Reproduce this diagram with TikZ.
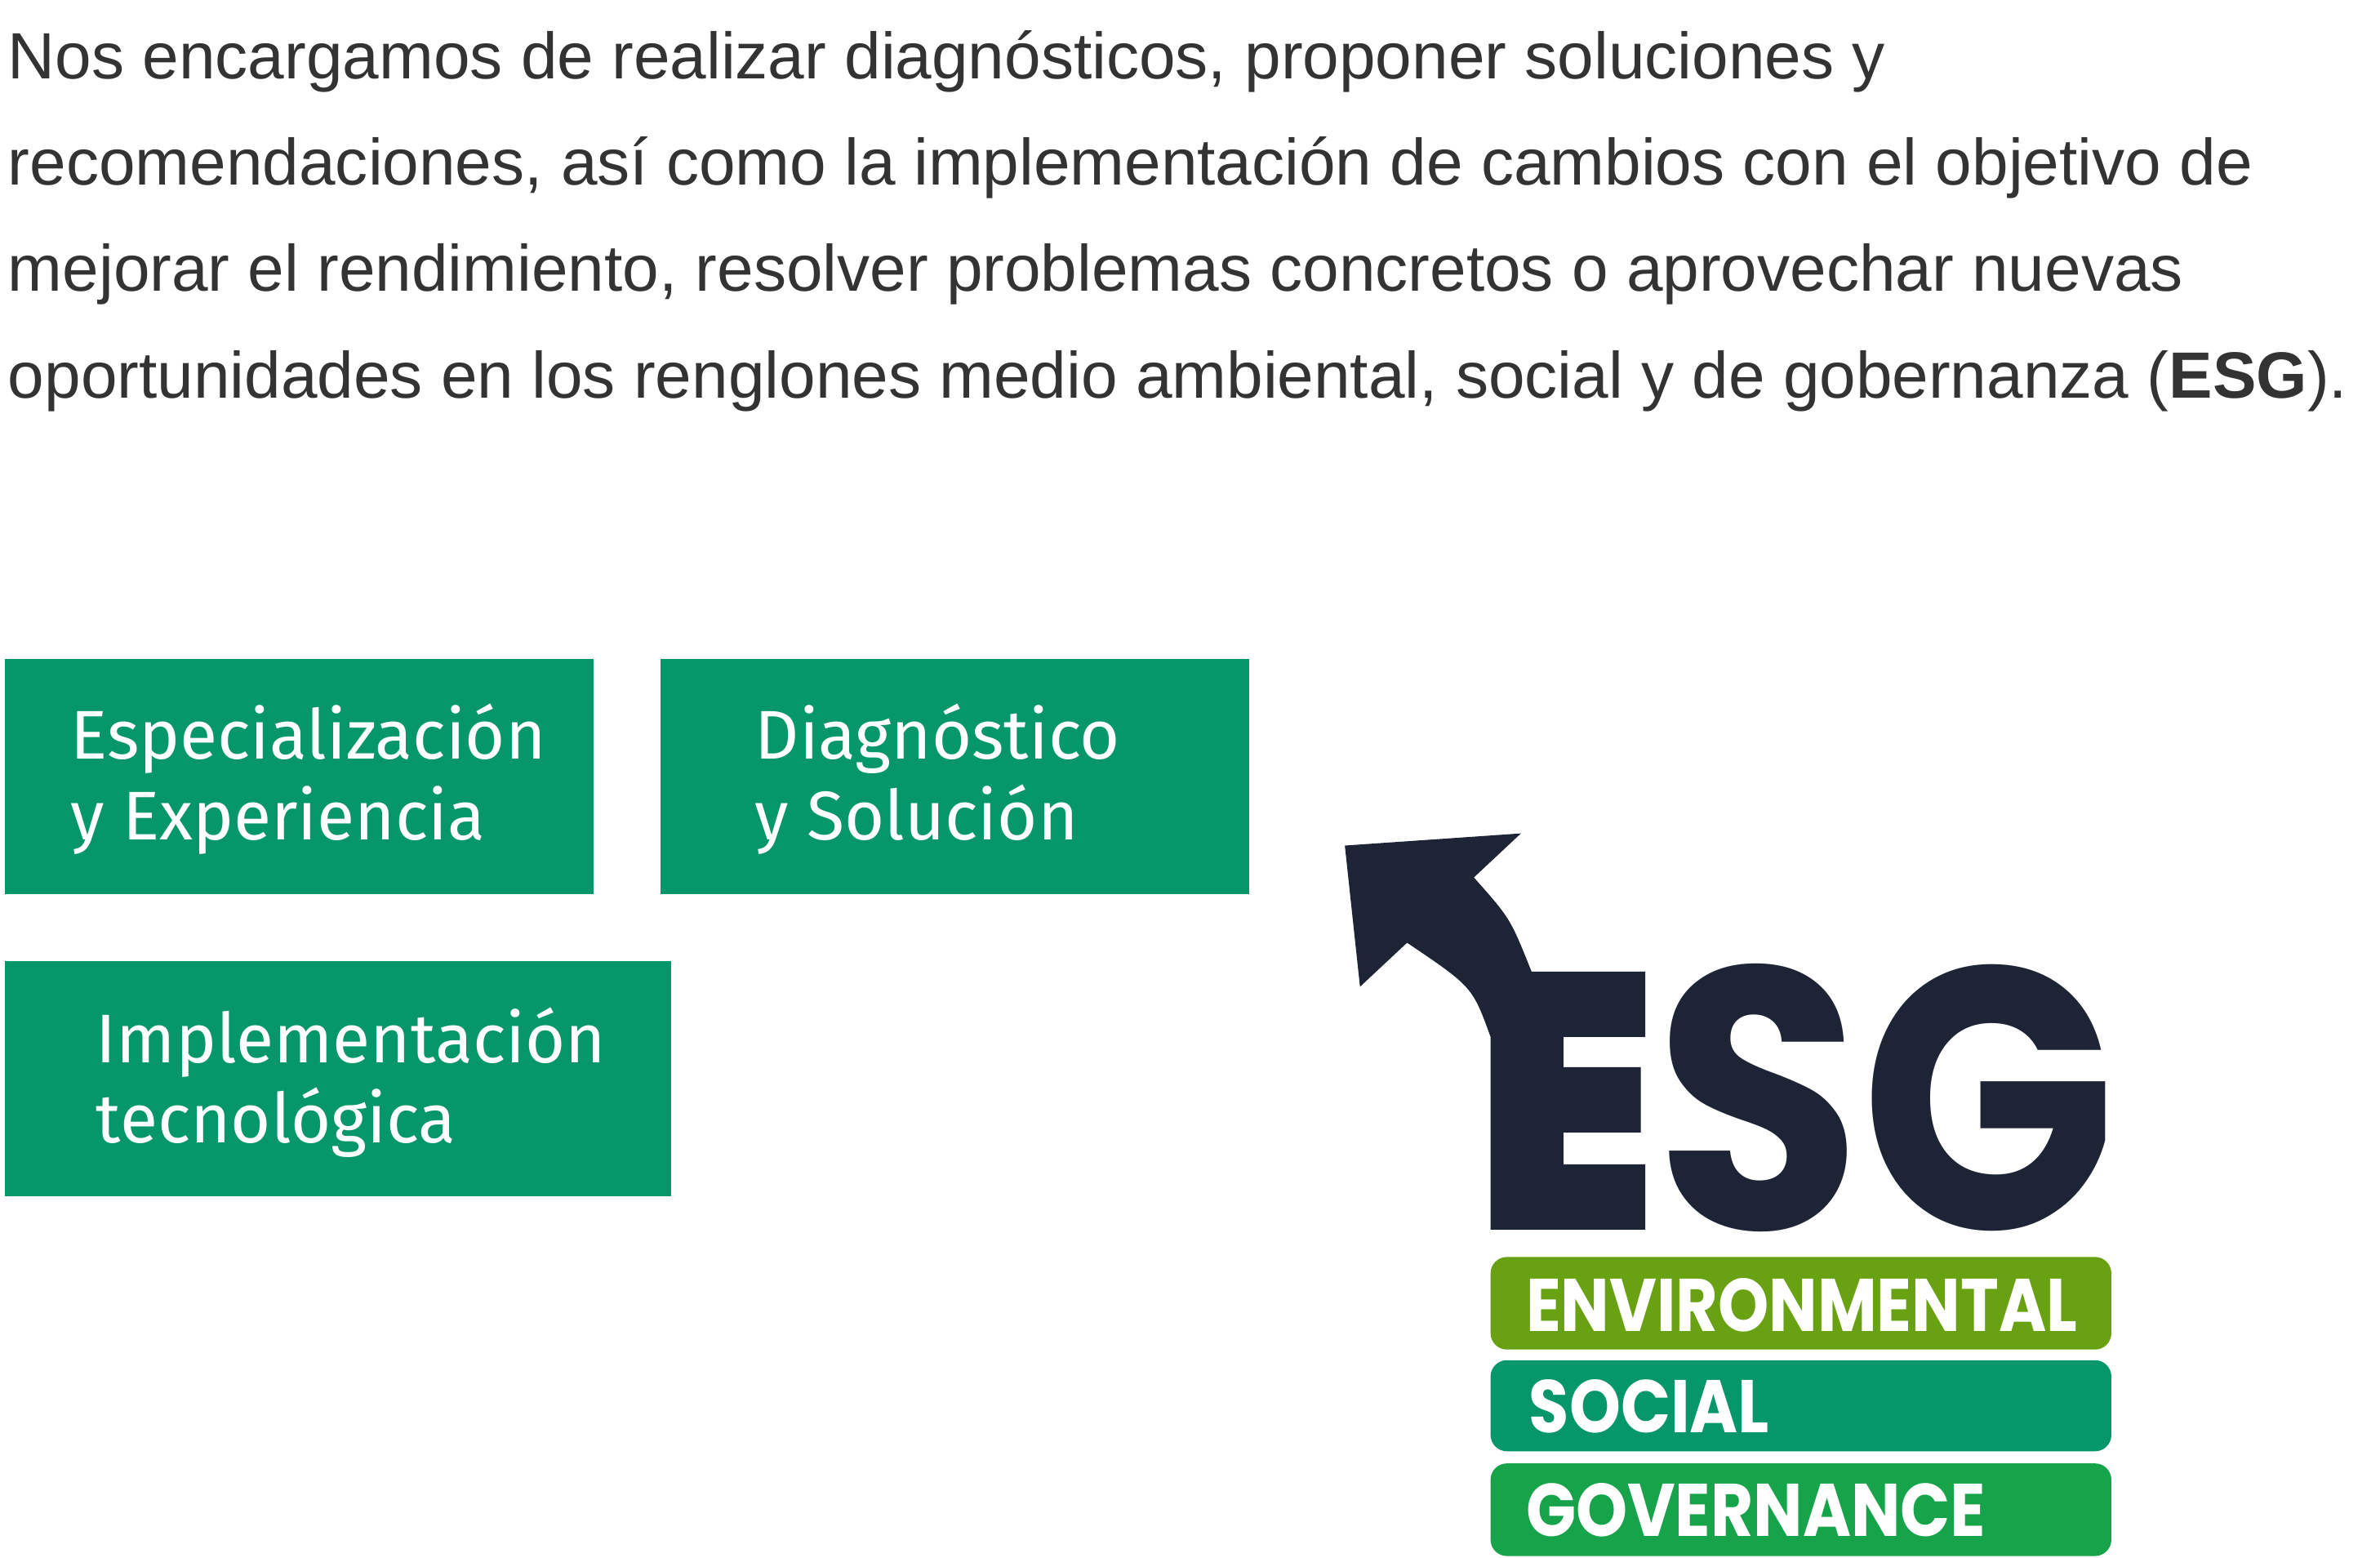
\documentclass[tikz,border=0pt]{standalone}
\usepackage{fontspec}
\setmainfont{Liberation Sans}
\newfontfamily\boxfont{Fira Sans}
\newfontfamily\logofont{Poppins}
\usetikzlibrary{positioning}
\definecolor{bodygrey}{HTML}{333333}
\definecolor{boxgreen}{HTML}{05966A}
\definecolor{logonavy}{HTML}{1C2436}
\definecolor{envgreen}{HTML}{68A212}
\definecolor{govgreen}{HTML}{16A34A}
\tikzset{
    para/.style={
        anchor=base west,
        inner sep=0pt,
        text=bodygrey,
        font=\fontsize{22.8}{28}\selectfont
    },
    tiletext/.style={
        anchor=base west,
        inner sep=0pt,
        text=white,
        align=left,
        font=\boxfont\fontsize{24}{29}\selectfont
    },
    bar/.style={
        rounded corners=0.2cm
    },
    bartext/.style={
        anchor=base west,
        inner sep=0pt,
        text=white,
        font=\logofont\bfseries
    },
}
\begin{document}
\begin{tikzpicture}[x=0.01859cm,y=-0.01859cm]
\useasboundingbox (0,0) rectangle (1568,1026);

% Paragraph
\node[para] (l1) at (5,52) {Nos encargamos de realizar diagnósticos, proponer soluciones y};
\node[para] (l2) at (5,122) {recomendaciones, así como la implementación de cambios con el objetivo de};
\node[para] (l3) at (5,192) {mejorar el rendimiento, resolver problemas concretos o aprovechar nuevas};
\node[para] (l4) at (5,262) {oportunidades en los renglones medio ambiental, social y de gobernanza (\textbf{ESG}).};

% Tiles
\fill[boxgreen] (3,434) rectangle (391,589);
\fill[boxgreen] (435,434) rectangle (823,589);
\fill[boxgreen] (3,633) rectangle (442,788);
\node[tiletext] (t1) at (46,500) {Especialización};
\node[tiletext] (t1b) at (46,553) {y Experiencia};
\node[tiletext] (t2) at (497,500) {Diagnóstico};
\node[tiletext] (t2b) at (497,553) {y Solución};
\node[tiletext] (t3) at (63,700) {Implementación};
\node[tiletext] (t3b) at (63,753) {tecnológica};

% Logo: arrow and E
\fill[logonavy] (886,557) -- (1002,549) -- (971,578)
    .. controls (995,605) .. (1009,640) -- (1084,640) -- (1084,683)
    -- (1030,683) -- (1030,703) -- (1081,703) -- (1081,746) -- (1030,746)
    -- (1030,767) -- (1084,767) -- (1084,810) -- (982,810) -- (982,683)
    .. controls (970,650) .. (927,621) -- (896,650) -- cycle;
\node[anchor=south west, inner sep=0pt, text=logonavy] (sg) at (1090,812)
    {\resizebox{5.65cm}{3.25cm}{\logofont\bfseries SG}};

% Bars
\fill[envgreen, bar] (982,828) rectangle (1391,889);
\fill[boxgreen, bar] (982,896) rectangle (1391,956);
\fill[govgreen, bar] (982,964) rectangle (1391,1025);
\node[bartext] (env) at (1005,877) {\resizebox{6.75cm}{0.65cm}{ENVIRONMENTAL}};
\node[bartext] (soc) at (1007,944) {\resizebox{2.94cm}{0.65cm}{SOCIAL}};
\node[bartext] (gov) at (1005,1012) {\resizebox{5.63cm}{0.65cm}{GOVERNANCE}};

\end{tikzpicture}
\end{document}
